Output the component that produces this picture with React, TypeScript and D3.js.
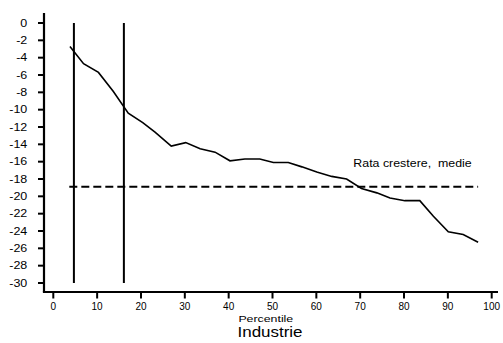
import React from "react";
import * as d3 from "d3";

// Growth rate by industry percentile
const percentiles = [3.8, 6.9, 10.3, 13.7, 17.1, 20.4, 23.2, 26.9, 30.2, 33.5, 36.9, 40.3, 43.7, 47.1, 50.2, 53.6, 56.7, 60.1, 63.5, 66.9, 70.3, 73.8, 76.8, 80.2, 83.6, 86.7, 90.1, 93.5, 96.9];
const growthRates = [-2.7, -4.7, -5.7, -7.9, -10.4, -11.5, -12.6, -14.2, -13.8, -14.5, -14.9, -15.9, -15.7, -15.7, -16.1, -16.1, -16.6, -17.2, -17.7, -18.0, -19.1, -19.6, -20.2, -20.5, -20.5, -22.3, -24.1, -24.4, -25.3];
const markerPercentiles = [4.7, 16.1];
const averageRate = -18.9;
const averageSpan = [3.65, 96.9];
const xTicks = [0, 10, 20, 30, 40, 50, 60, 70, 80, 90, 100];
const yTicks = d3.range(0, -31, -2);

const font = "'Liberation Sans', Arial, sans-serif";

// Text drawn with a horizontal stretch around its anchor point
function WideText({
  x,
  y,
  sx,
  size,
  anchor = "start",
  dy,
  children,
}: {
  x: number;
  y: number;
  sx: number;
  size: number;
  anchor?: "start" | "middle" | "end";
  dy?: string;
  children: React.ReactNode;
}) {
  return (
    <g transform={`translate(${x},${y}) scale(${sx},1)`}>
      <text x={0} y={0} dy={dy} textAnchor={anchor} fontSize={size} style={{ whiteSpace: "pre" }}>
        {children}
      </text>
    </g>
  );
}

export default function App() {
  const x = d3.scaleLinear().domain([0, 100]).range([53.3, 491.7]);
  const y = d3.scaleLinear().domain([0, -30]).range([23, 283]);
  const axisX = 44;
  const axisY = 292;

  const line = d3
    .line<number>()
    .x((_, i) => x(percentiles[i]))
    .y((d) => y(d));

  return (
    <svg
      width={503}
      height={343}
      style={{ position: "absolute", left: 0, top: 0, background: "#fff" }}
      fontFamily={font}
    >
      <rect width={503} height={343} fill="#fff" />
      {/* axes */}
      <line x1={axisX} x2={axisX} y1={13} y2={axisY} stroke="#000" strokeWidth={2.2} />
      <line x1={axisX - 1.1} x2={498} y1={axisY} y2={axisY} stroke="#000" strokeWidth={2.2} />
      {yTicks.map((t) => (
        <g key={t}>
          <line x1={axisX - 6} x2={axisX} y1={y(t)} y2={y(t)} stroke="#000" strokeWidth={2} />
          <WideText x={27.3} y={y(t)} sx={1.25} size={10} anchor="end" dy="0.38em">
            {t}
          </WideText>
        </g>
      ))}
      {xTicks.map((t) => (
        <g key={t}>
          <line x1={x(t)} x2={x(t)} y1={axisY} y2={axisY + 6.5} stroke="#000" strokeWidth={2} />
          <text x={x(t)} y={310} textAnchor="middle" fontSize={10}>
            {t}
          </text>
        </g>
      ))}
      <WideText x={265.8} y={321.7} sx={1.3} size={9.5} anchor="middle">
        Percentile
      </WideText>
      <WideText x={270} y={337.3} sx={1.17} size={14.5} anchor="middle">
        Industrie
      </WideText>

      {/* percentile markers */}
      {markerPercentiles.map((p) => (
        <line key={p} x1={x(p)} x2={x(p)} y1={y(0)} y2={y(-30)} stroke="#000" strokeWidth={2} />
      ))}

      {/* average growth rate */}
      <line
        x1={x(averageSpan[0])}
        x2={x(averageSpan[1])}
        y1={y(averageRate)}
        y2={y(averageRate)}
        stroke="#000"
        strokeWidth={2}
        strokeDasharray="8,4"
      />
      <WideText x={353.3} y={167} sx={1.24} size={10}>
        {"Rata crestere,  medie"}
      </WideText>

      <path d={line(growthRates) ?? ""} fill="none" stroke="#000" strokeWidth={1.6} />
    </svg>
  );
}
